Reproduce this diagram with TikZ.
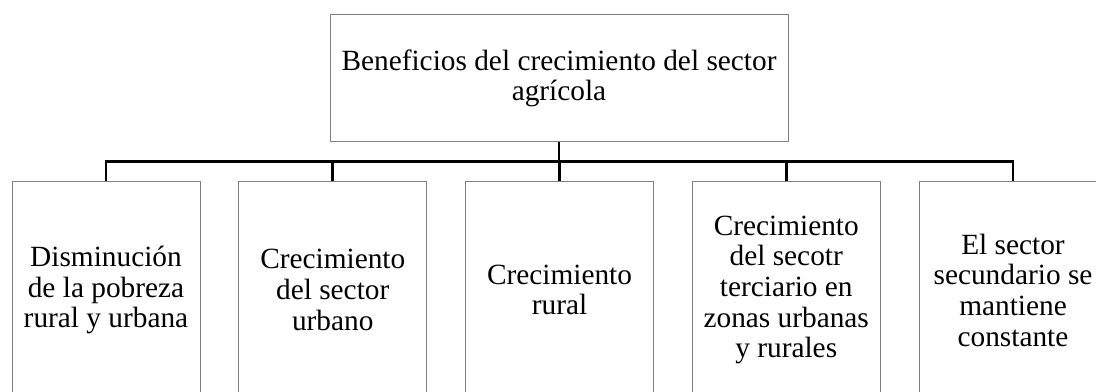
\documentclass[tikz,border=0pt]{standalone}
\usepackage{fontspec}
\setmainfont{Liberation Serif}
\usepackage{xcolor}

\tikzset{
  topbox/.style={draw=gray, line width=0.75pt, minimum width=343.5pt, minimum height=95.25pt, align=center, font=\fontsize{22}{23}\selectfont},
  leafbox/.style={draw=gray, line width=0.75pt, minimum width=141pt, minimum height=162pt, align=center, font=\fontsize{22}{23}\selectfont},
  branch/.style={line width=2pt}
}

\begin{document}
\begin{tikzpicture}[x=0.75pt,y=0.75pt,yscale=-1,xscale=1]
\useasboundingbox (0,0) rectangle (1096,392);
\clip (0,0) rectangle (1096,392);

% Top box
\node [topbox] (benef) at (559,78.5) {Beneficios del crecimiento del sector\\agrícola};

% Bottom boxes
\node [leafbox] (pobreza) at (106,290) {Disminución\\de la pobreza\\rural y urbana};
\node [leafbox] (urbano) at (332.75,290) {Crecimiento\\del sector\\urbano};
\node [leafbox] (rural) at (559.5,290) {Crecimiento\\rural};
\node [leafbox] (terciario) at (786.25,290) {Crecimiento\\del secotr\\terciario en\\zonas urbanas\\y rurales};
\node [leafbox] (secundario) at (1013,290) {El sector\\secundario se\\mantiene\\constante};

% Connectors
\coordinate (bus) at (559,161.5);
\draw [branch] (benef.south) -- (bus);
\draw [branch] (bus) -| (pobreza.north);
\draw [branch] (bus) -| (urbano.north);
\draw [branch] (bus) -| (rural.north);
\draw [branch] (bus) -| (terciario.north);
\draw [branch] (bus) -| (secundario.north);

\end{tikzpicture}
\end{document}
